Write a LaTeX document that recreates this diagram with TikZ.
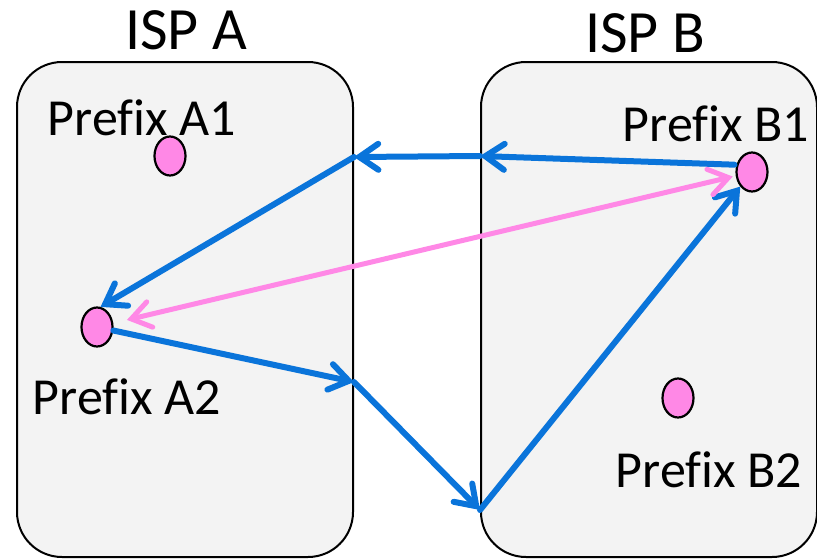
\documentclass[tikz,border=0pt]{standalone}
\usepackage{fontspec}
\setmainfont[Ligatures=NoCommon]{Carlito}
\usetikzlibrary{arrows.meta,shapes.geometric,positioning}
\definecolor{ispgray}{HTML}{F3F3F3}
\definecolor{pathblue}{HTML}{0A74DA}
\definecolor{prefpink}{HTML}{FF88E6}
\tikzset{
  ispbox/.style = {draw, line width=2pt, rounded corners=45pt, fill=ispgray,
                   minimum width=336pt, minimum height=495pt, inner sep=0pt},
  isplabel/.style = {font=\fontsize{60}{70}\selectfont},
  preflabel/.style = {font=\fontsize{52}{60}\selectfont, inner sep=0pt},
  prefixdot/.style = {ellipse, draw, line width=2.2pt, fill=prefpink,
                   minimum width=31pt, minimum height=39pt, inner sep=0pt},
  hop/.style = {draw=pathblue, line width=6pt, line cap=round,
                -{Straight Barb[length=19pt,width=26pt,line cap=round]}},
  direct/.style = {draw=prefpink, line width=5pt, line cap=round,
                {Straight Barb[length=19pt,width=26pt,line cap=round]}-{Straight Barb[length=19pt,width=26pt,line cap=round]}}
}

\begin{document}
\begin{tikzpicture}[x=1pt,y=-1pt]
\useasboundingbox (0,0) rectangle (817,558);

% the two ISPs
\node[ispbox] (ispA) at (185,309.5) {};
\node[ispbox] (ispB) at (649,309.5) {};
\node[isplabel] (ispAname) at (186,30) {ISP A};
\node[isplabel] (ispBname) at (645,33) {ISP B};

% prefixes
\node[prefixdot] (a1) at (170,156) {};
\node[prefixdot] (a2) at (97,327) {};
\node[prefixdot] (b1) at (752,172) {};
\node[prefixdot] (b2) at (678,398) {};
\node[preflabel] (a1name) at (142,118) {Prefix A1};
\node[preflabel] (a2name) at (127,397) {Prefix A2};
\node[preflabel] (b1name) at (716,124) {Prefix B1};
\node[preflabel] (b2name) at (709,470) {Prefix B2};

% border crossings
\coordinate (bout) at (ispB.west |- 0,156);
\coordinate (ain) at (ispA.east |- 0,157);
\coordinate (aout) at (ispA.east |- 0,382);
\coordinate (bin) at (ispB.west |- 0,510);

% the path round both ISPs
\draw[hop, shorten <=2pt] (b1.155) -- (bout);
\draw[hop] (bout) -- (ain);
\draw[hop] (ain) -- (a2.80);
\draw[hop] (a2) -- (aout);
\draw[hop] (aout) -- (bin);
\draw[hop] (bin) -- (b1);

% the direct path
\draw[direct, shorten <=14pt, shorten >=3pt] (a2) -- (b1);
\end{tikzpicture}
\end{document}
